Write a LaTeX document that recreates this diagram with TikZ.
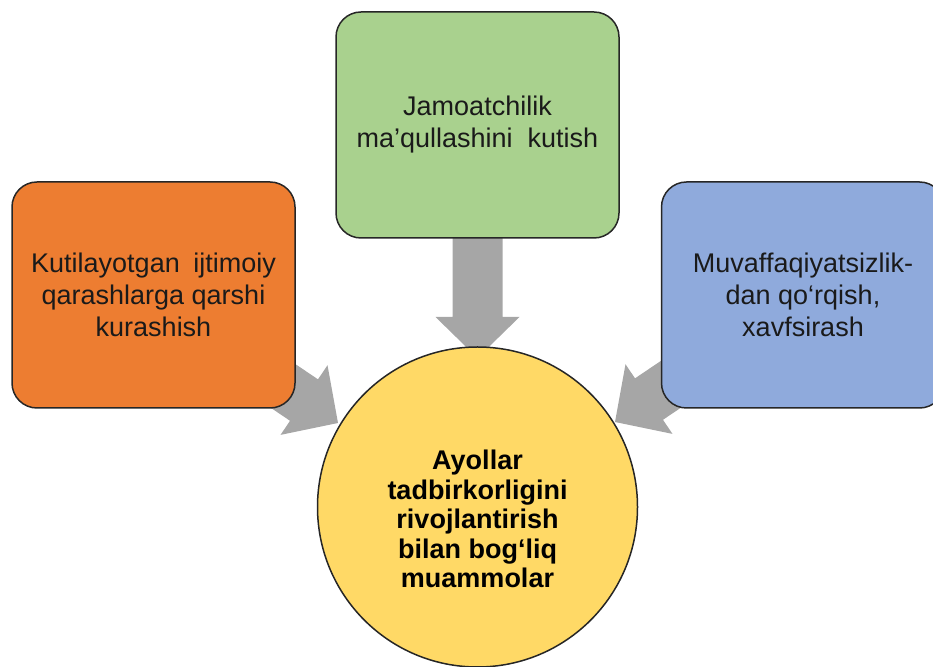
\documentclass[tikz,border=0pt]{standalone}
\usepackage{fontspec}
\setmainfont{Liberation Sans}
\definecolor{boxorange}{HTML}{ED7D31}
\definecolor{boxgreen}{HTML}{A9D18E}
\definecolor{boxblue}{HTML}{8FAADC}
\definecolor{hubyellow}{HTML}{FFD966}
\definecolor{arrowgray}{HTML}{A6A6A6}
\definecolor{edge}{HTML}{262626}
\definecolor{ink}{HTML}{1A1A1A}
\tikzset{
  card/.style={draw=edge, line width=1.5pt, rounded corners=25pt,
    minimum width=283pt, minimum height=226pt, align=center, text=ink,
    font=\fontsize{27}{32}\selectfont},
  hub/.style={circle, draw=edge, line width=1.5pt, fill=hubyellow,
    minimum size=320pt},
  hubtext/.style={align=center, text=black,
    font=\bfseries\fontsize{27}{29.5}\selectfont}
}
\newcommand\blockarrow[2]{%
  \fill[arrowgray, shift={(#1)}, rotate=#2]
    (0,0) -- (-41,42) -- (-41,25) -- (-130,25) -- (-130,-25)
    -- (-41,-25) -- (-41,-42) -- cycle;}
\begin{document}
\begin{tikzpicture}[x=1pt,y=1pt]
      \clip (0,0) rectangle (933,666);
      % arrow tips
      \coordinate (tipL) at (338,243);
      \coordinate (tipT) at (477.5,308);
      \coordinate (tipR) at (615,244);
      \blockarrow{tipL}{-34}
      \blockarrow{tipT}{-90}
      \blockarrow{tipR}{214}
      % boxes
      \node[card, fill=boxorange] (social) at (153.5,371)
        {Kutilayotgan\ \hspace*{6pt}ijtimoiy\\qarashlarga qarshi\\kurashish};
      \node[card, fill=boxgreen] (approval) at (477.5,541)
        {Jamoatchilik\\ma’qullashini\ \ kutish};
      \node[card, fill=boxblue] (fear) at (803,371)
        {Muvaffaqiyatsizlik-\\dan qo‘rqish,\\xavfsirash};
      \node[hub] (problems) at (477.5,159) {};
      \node[hubtext] (problemslabel) at ([yshift=-12pt]problems.center)
        {Ayollar\\tadbirkorligini\\rivojlantirish\\bilan bog‘liq\\muammolar};
\end{tikzpicture}
\end{document}
